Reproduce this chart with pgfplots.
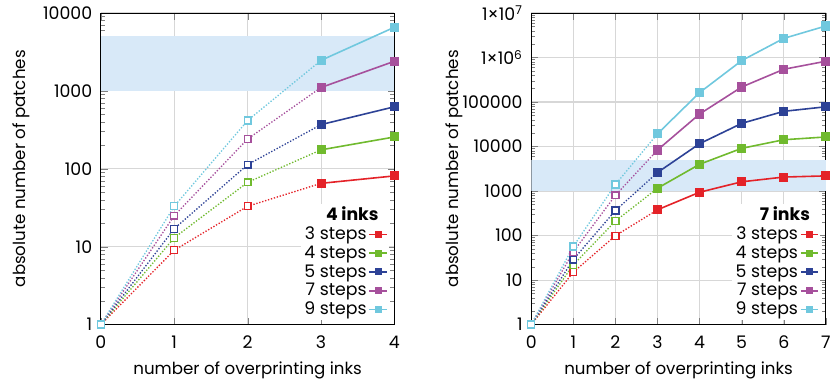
\documentclass[border=0pt]{standalone}
\usepackage{pgfplots}
\pgfplotsset{compat=1.18}
\usepackage{pgfplotstable}
\usepackage{fontspec}
\setmainfont{Poppins}

\definecolor{cR}{RGB}{228,34,40}
\definecolor{cG}{RGB}{112,186,46}
\definecolor{cB}{RGB}{45,66,150}
\definecolor{cM}{RGB}{166,80,156}
\definecolor{cC}{RGB}{112,200,222}
\definecolor{band}{RGB}{216,233,248}
\definecolor{gridc}{RGB}{215,215,215}

\pgfplotstableread{
x a b c d e
0 1 1 1 1 1
1 9 13 17 25 33
2 33 67 113 241 417
3 65 175 369 1105 2465
4 81 256 625 2401 6561
}\leftdata

\pgfplotstableread{
x a b c d e
0 1 1 1 1 1
1 15 22 29 43 57
2 99 211 365 799 1401
3 379 1156 2605 8359 19321
4 939 3991 11565 53719 162681
5 1611 9094 33069 217015 850809
6 2059 14197 61741 543607 2685817
7 2187 16384 78125 823543 5100000
}\rightdata

\newcommand{\myseries}[4]{% table, column, color, xmax
  \addplot[#3, line width=1pt, dash pattern=on 1pt off 1.3pt, forget plot, restrict x to domain=0:3] table[x=x,y=#2] {#1};
  \addplot[only marks, mark=square*, mark size=2.6pt, mark options={fill=white, draw=#3, solid, line width=1pt}, forget plot, restrict x to domain=0:2] table[x=x,y=#2] {#1};
  \addplot[#3, solid, line width=1.2pt, mark=square*, mark size=2.8pt, forget plot, restrict x to domain=3:#4] table[x=x,y=#2] {#1};
}
\newcommand{\legimg}[2]{%
  \addlegendimage{#1, solid, line width=1.2pt, mark=square*, mark size=2pt,
    legend image code/.code={\draw[mark repeat=2,mark phase=2] plot coordinates {(0pt,0pt)(6.5pt,0pt)(13pt,0pt)};}}
  \addlegendentry{#2}
}

\begin{document}
\begin{tikzpicture}
\begin{axis}[scale only axis, height=234pt, width=220.5pt,
    ymode=log, ymin=1, ymax=10000, xmin=0, xmax=4,
    grid=major, major grid style={gridc, line width=0.8pt},
    tick align=inside,
    axis line style={line width=0.7pt},
    major tick length=5pt, minor tick length=3pt,
    tick label style={font=\fontsize{13}{15}\selectfont},
    xticklabel style={yshift=-5pt},
    yticklabel style={xshift=-3pt},
    /pgf/number format/assume math mode=true,
    label style={font=\fontsize{12.5}{15}\selectfont},
    xlabel={number of overprinting inks},
    ylabel={absolute number of patches},
    xlabel style={at={(axis description cs:0.5,-0.16)}, anchor=base},
    ylabel style={at={(axis description cs:-0.315,0.5)}, anchor=north},
    legend cell align=right, legend plot pos=right,
    legend style={draw=none, fill=white, at={(1,0)}, anchor=south east,
      xshift=-4pt, yshift=3pt, font=\fontsize{13}{14}\selectfont,
      row sep=0.2pt, inner sep=1pt, nodes={inner sep=1.5pt}},
    xtick={0,1,2,3,4},
    ytick={1,10,100,1000,10000}, yticklabels={1,10,100,1000,10000},
    minor ytick={2,3,4,5,6,7,8,9,20,30,40,50,60,70,80,90,200,300,400,500,600,700,800,900,2000,3000,4000,5000,6000,7000,8000,9000}]
  \addplot[draw=none, fill=band, forget plot] coordinates {(0,1000) (4,1000) (4,5000) (0,5000)} -- cycle;
  \myseries{\leftdata}{a}{cR}{4}
  \myseries{\leftdata}{b}{cG}{4}
  \myseries{\leftdata}{c}{cB}{4}
  \myseries{\leftdata}{d}{cM}{4}
  \myseries{\leftdata}{e}{cC}{4}
  \addlegendimage{empty legend}
  \addlegendentry{\textbf{4 inks}\hspace*{-9pt}}
  \legimg{cR}{3 steps}
  \legimg{cG}{4 steps}
  \legimg{cB}{5 steps}
  \legimg{cM}{7 steps}
  \legimg{cC}{9 steps}
\end{axis}
\begin{axis}[at={(323.25pt,0pt)}, scale only axis, height=234pt, width=221.25pt,
    ymode=log, ymin=1, ymax=1e7, xmin=0, xmax=7,
    grid=major, major grid style={gridc, line width=0.8pt},
    tick align=inside,
    axis line style={line width=0.7pt},
    major tick length=5pt, minor tick length=3pt,
    tick label style={font=\fontsize{13}{15}\selectfont},
    xticklabel style={yshift=-5pt},
    yticklabel style={xshift=-3pt},
    /pgf/number format/assume math mode=true,
    label style={font=\fontsize{12.5}{15}\selectfont},
    xlabel={number of overprinting inks},
    ylabel={absolute number of patches},
    xlabel style={at={(axis description cs:0.5,-0.16)}, anchor=base},
    ylabel style={at={(axis description cs:-0.305,0.5)}, anchor=north},
    legend cell align=right, legend plot pos=right,
    legend style={draw=none, fill=white, at={(1,0)}, anchor=south east,
      xshift=-4pt, yshift=3pt, font=\fontsize{13}{14}\selectfont,
      row sep=0.2pt, inner sep=1pt, nodes={inner sep=1.5pt}},
    xtick={0,1,2,3,4,5,6,7},
    ytick={1,10,100,1000,10000,100000,1000000,10000000},
    yticklabels={1,10,100,1000,10000,100000,{1×10\textsuperscript{6}},{1×10\textsuperscript{7}}},
    minor ytick={2,3,4,5,6,7,8,9,20,30,40,50,60,70,80,90,200,300,400,500,600,700,800,900,2000,3000,4000,5000,6000,7000,8000,9000,20000,30000,40000,50000,60000,70000,80000,90000,200000,300000,400000,500000,600000,700000,800000,900000,2000000,3000000,4000000,5000000,6000000,7000000,8000000,9000000}]
  \addplot[draw=none, fill=band, forget plot] coordinates {(0,1000) (7,1000) (7,5000) (0,5000)} -- cycle;
  \myseries{\rightdata}{a}{cR}{7}
  \myseries{\rightdata}{b}{cG}{7}
  \myseries{\rightdata}{c}{cB}{7}
  \myseries{\rightdata}{d}{cM}{7}
  \myseries{\rightdata}{e}{cC}{7}
  \addlegendimage{empty legend}
  \addlegendentry{\textbf{7 inks}\hspace*{-9pt}}
  \legimg{cR}{3 steps}
  \legimg{cG}{4 steps}
  \legimg{cB}{5 steps}
  \legimg{cM}{7 steps}
  \legimg{cC}{9 steps}
\end{axis}
\useasboundingbox (-75.75pt,-45.75pt) rectangle (550.5pt,243.75pt);
\end{tikzpicture}
\end{document}
